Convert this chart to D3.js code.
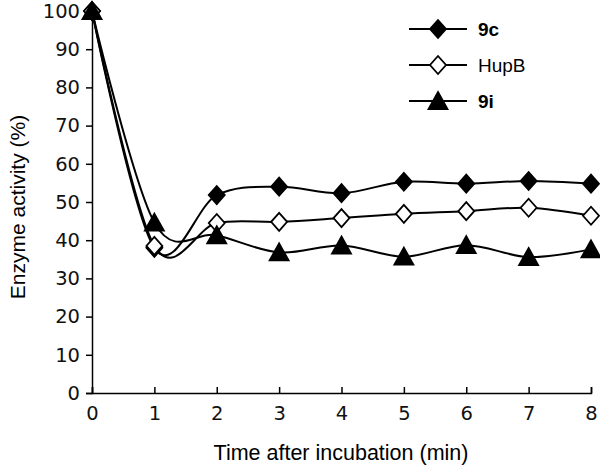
<!DOCTYPE html>
<html>
<head>
<meta charset="utf-8">
<script src="https://cdn.jsdelivr.net/npm/d3@7"></script>
<style>
  body { margin: 0; background: #fff; }
  svg { display: block; }
</style>
</head>
<body>
<svg id="chart" width="600" height="465"></svg>
<script>
// data
const times = [0, 1, 2, 3, 4, 5, 6, 7, 8];
const series9c = [100, 38, 51.8, 54, 52.3, 55.3, 54.8, 55.5, 54.8];
const seriesHupB = [100, 38.5, 44.5, 44.8, 45.8, 46.9, 47.6, 48.5, 46.4];
const series9i = [100, 44.6, 41.3, 36.8, 38.6, 35.7, 38.7, 35.6, 37.6];
const yTicks = [0, 10, 20, 30, 40, 50, 60, 70, 80, 90, 100];

const svg = d3.select("#chart");
const x = d3.scaleLinear().domain([0, 8]).range([92, 591]);
const y = d3.scaleLinear().domain([0, 100]).range([393, 11]);

const tickFont = "DejaVu Sans, sans-serif";
const labelFont = "Liberation Sans, Arial, sans-serif";

// axes
const yAxis = svg.append("g")
  .attr("transform", `translate(${x(0)},0)`)
  .call(d3.axisLeft(y).tickValues(yTicks).tickSize(6).tickPadding(6).tickFormat(d3.format("d")));
const xAxis = svg.append("g")
  .attr("transform", `translate(0,${y(0)})`)
  .call(d3.axisBottom(x).tickValues(times).tickSize(-6).tickPadding(14).tickFormat(d3.format("d")));

[xAxis, yAxis].forEach(a => {
  a.select(".domain").attr("stroke", "#000").attr("stroke-width", 1.5);
  a.selectAll(".tick line").attr("stroke", "#000").attr("stroke-width", 1.5);
  a.selectAll(".tick text").attr("fill", "#111").attr("font-family", tickFont).attr("font-size", 19.5);
});
// keep x labels below the axis even with inward ticks
xAxis.selectAll(".tick text").attr("y", 13);

// axis titles
svg.append("text")
  .attr("x", 341).attr("y", 460)
  .attr("text-anchor", "middle")
  .attr("font-family", labelFont).attr("font-size", 21.5)
  .text("Time after incubation (min)");
svg.append("text")
  .attr("transform", "translate(25,207) rotate(-90)")
  .attr("text-anchor", "middle")
  .attr("font-family", labelFont).attr("font-size", 21)
  .text("Enzyme activity (%)");

const line = d3.line()
  .x((d, i) => x(times[i]))
  .y(d => y(d))
  .curve(d3.curveCardinal.tension(0));

const diamond = "M0,-9L8,0L0,9L-8,0Z";
const triangle = "M0,-9L9.5,8L-9.5,8Z";

const series = [
  { name: "9c", values: series9c, shape: diamond, fill: "#000", bold: true },
  { name: "HupB", values: seriesHupB, shape: diamond, fill: "#fff", bold: false },
  { name: "9i", values: series9i, shape: triangle, fill: "#000", bold: true }
];

series.forEach(s => {
  svg.append("path")
    .attr("d", line(s.values))
    .attr("fill", "none")
    .attr("stroke", "#000")
    .attr("stroke-width", 2);
  svg.selectAll(null)
    .data(s.values)
    .enter().append("path")
    .attr("transform", (d, i) => `translate(${x(times[i])},${y(d)})`)
    .attr("d", s.shape)
    .attr("fill", s.fill)
    .attr("stroke", "#000")
    .attr("stroke-width", 1.8);
});

// legend
const legend = svg.append("g");
series.forEach((s, i) => {
  const ly = 29 + i * 36;
  legend.append("line")
    .attr("x1", 409).attr("x2", 467).attr("y1", ly).attr("y2", ly)
    .attr("stroke", "#000").attr("stroke-width", 2);
  legend.append("path")
    .attr("transform", `translate(438,${ly})`)
    .attr("d", s.shape)
    .attr("fill", s.fill)
    .attr("stroke", "#000")
    .attr("stroke-width", 1.8);
  legend.append("text")
    .attr("x", 478).attr("y", ly + 7)
    .attr("font-family", labelFont).attr("font-size", 19)
    .attr("font-weight", s.bold ? "bold" : "normal")
    .text(s.name);
});
</script>
</body>
</html>
